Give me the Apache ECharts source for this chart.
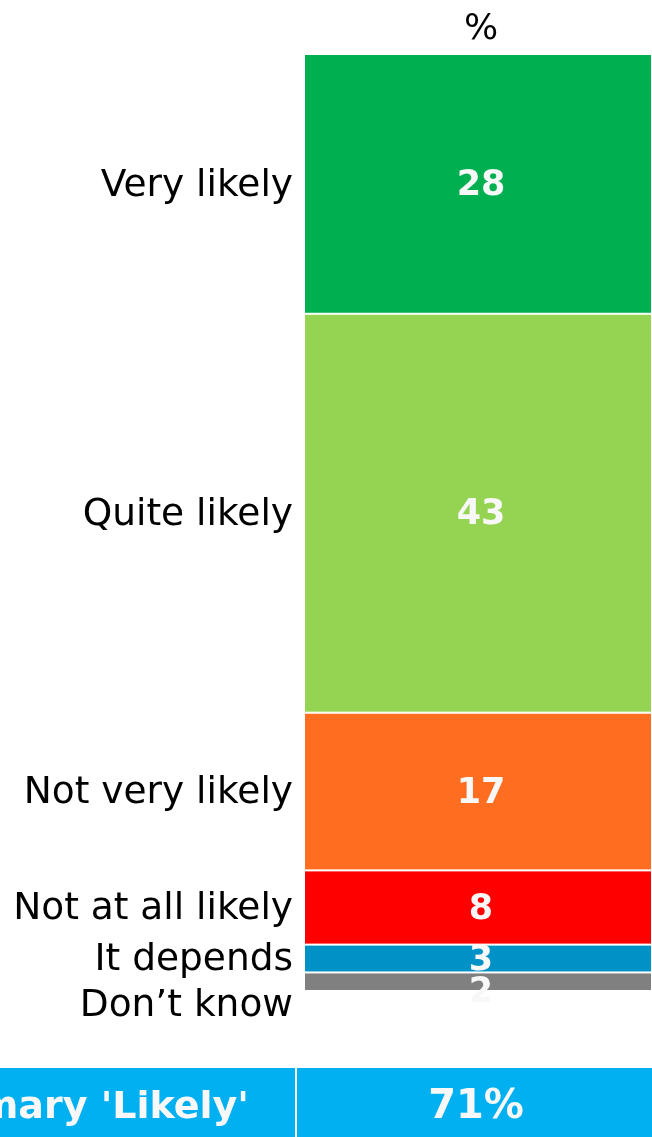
<!DOCTYPE html>
<html>
<head>
<meta charset="utf-8">
<script src="https://cdn.jsdelivr.net/npm/echarts@6/dist/echarts.min.js"></script>
<style>
  html, body { margin: 0; padding: 0; background: #fff; }
  #chart { width: 652px; height: 1137px; }
</style>
</head>
<body>
<div id="chart"></div>
<script>
// answers, top to bottom
var categories = ['Very likely', 'Quite likely', 'Not very likely', 'Not at all likely', 'It depends', 'Don\u2019t know'];
var values = [28, 43, 17, 8, 3, 2];
var colors = ['#00B050', '#95D352', '#FF6D21', '#FF0000', '#0091C6', '#808080'];
var axisLabels = ['%'];
var summaryLabel = "Summary 'Likely'";

var total = values.reduce(function (a, b) { return a + b; }, 0);
var likely = values[0] + values[1];
var font = 'DejaVu Sans';

var series = [];
// coloured segments with the numbers (bar runs off the right edge, so nudge centre)
categories.forEach(function (name, i) {
  series.push({
    name: name,
    type: 'bar',
    stack: 'vals',
    barWidth: '100%',
    barGap: '-100%',
    data: [values[i]],
    itemStyle: { color: colors[i], borderColor: '#fff', borderWidth: 1 },
    label: {
      show: true,
      position: 'inside',
      color: '#F8F8F8',
      fontFamily: font,
      fontWeight: 'bold',
      fontSize: 35,
      offset: i === categories.length - 1 ? [3, 11] : [3, 2]
    }
  });
});
// invisible twin stack that carries the answer names on the left
categories.forEach(function (name, i) {
  series.push({
    name: name + ' label',
    type: 'bar',
    stack: 'names',
    barWidth: '100%',
    barGap: '-100%',
    data: [values[i]],
    silent: true,
    itemStyle: { color: 'rgba(0,0,0,0)' },
    label: {
      show: true,
      position: 'left',
      distance: 11,
      formatter: name,
      color: '#000',
      fontFamily: font,
      fontSize: 37.5,
      offset: i === categories.length - 1 ? [0, 25] : [0, 2]
    }
  });
});

var chart = echarts.init(document.getElementById('chart'));
chart.setOption({
  animation: false,
  grid: { left: 304, right: 0, top: 54, bottom: 146 },
  xAxis: {
    type: 'category',
    position: 'top',
    data: axisLabels,
    axisLine: { show: false },
    axisTick: { show: false },
    axisLabel: { color: '#000', fontFamily: font, fontSize: 36, margin: 6, padding: [0, 0, 0, 6] }
  },
  yAxis: {
    type: 'value',
    inverse: true,
    min: 0,
    max: total,
    show: false
  },
  series: series,
  graphic: [
    { type: 'rect', left: 0, top: 1068, shape: { width: 295, height: 69 }, style: { fill: '#00B0F0' } },
    { type: 'rect', left: 297, top: 1068, shape: { width: 360, height: 69 }, style: { fill: '#00B0F0' } },
    {
      type: 'text', x: 249, y: 1108,
      style: { text: summaryLabel, fill: '#F8F8F8', font: 'bold 38px "DejaVu Sans"', textAlign: 'right', textVerticalAlign: 'middle' }
    },
    {
      type: 'text', x: 476, y: 1108,
      style: { text: likely + '%', fill: '#F8F8F8', font: 'bold 40px "DejaVu Sans"', textAlign: 'center', textVerticalAlign: 'middle' }
    }
  ]
});
</script>
</body>
</html>
